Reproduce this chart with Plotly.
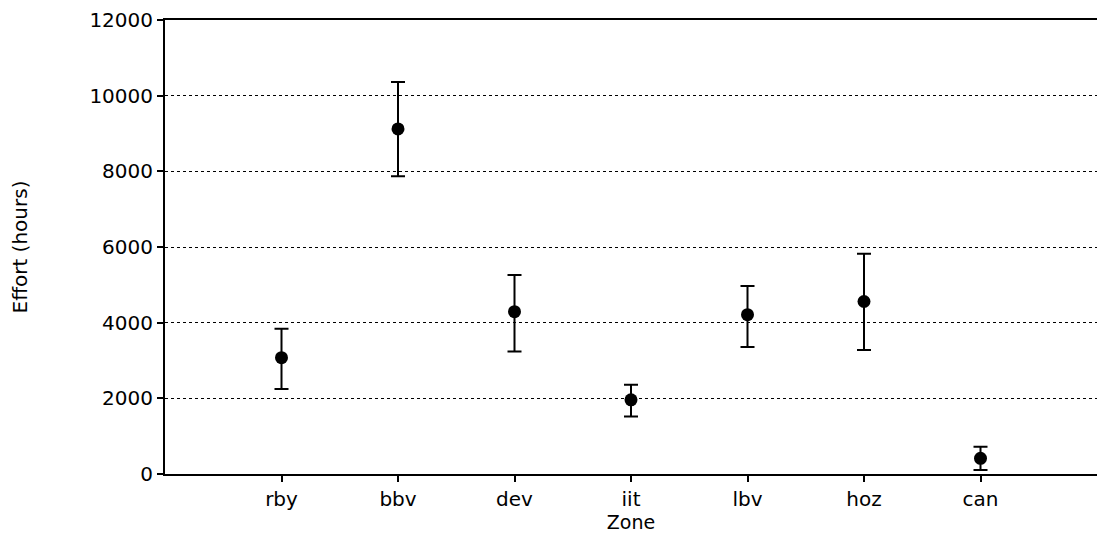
import plotly.graph_objects as go

zones = ["rby", "bbv", "dev", "iit", "lbv", "hoz", "can"]
effort = [3075, 9120, 4290, 1960, 4210, 4560, 415]
upper = [3840, 10360, 5260, 2360, 4970, 5820, 720]
lower = [2245, 7870, 3235, 1520, 3360, 3280, 105]

y_ticks = [0, 2000, 4000, 6000, 8000, 10000, 12000]

err_plus = [u - e for u, e in zip(upper, effort)]
err_minus = [e - l for e, l in zip(effort, lower)]

FONT = "DejaVu Sans"

fig = go.Figure()
fig.add_trace(go.Scatter(
    x=zones, y=effort, mode="markers",
    marker=dict(color="black", size=13, symbol="circle"),
    error_y=dict(type="data", symmetric=False, array=err_plus, arrayminus=err_minus,
                 color="black", thickness=2, width=7),
    showlegend=False,
))

fig.update_layout(
    width=1097, height=533,
    margin=dict(l=165, r=0, t=20, b=59),
    paper_bgcolor="white", plot_bgcolor="white",
    font=dict(family=FONT, color="black", size=18),
    xaxis=dict(
        type="category", categoryorder="array", categoryarray=zones,
        range=[-1, 7],
        showline=True, linecolor="black", linewidth=2, mirror=True,
        showgrid=False, zeroline=False,
        ticks="outside", ticklen=6, tickwidth=2, tickcolor="black",
        tickfont=dict(family=FONT, size=20, color="black"),
        title=dict(text="Zone", font=dict(family=FONT, size=19, color="black"), standoff=2),
    ),
    yaxis=dict(
        range=[0, 12000], tickvals=y_ticks, ticktext=[str(v) for v in y_ticks],
        showline=True, linecolor="black", linewidth=2,
        showgrid=True, gridcolor="black", gridwidth=1, griddash="dot",
        zeroline=False,
        ticks="outside", ticklen=6, tickwidth=2, tickcolor="black",
        tickfont=dict(family=FONT, size=20, color="black"),
        title=dict(text="Effort (hours)", font=dict(family=FONT, size=20, color="black"), standoff=56),
    ),
)

fig.write_html("out.html", config={"displayModeBar": False},
               post_script="document.body.style.margin='0';")
